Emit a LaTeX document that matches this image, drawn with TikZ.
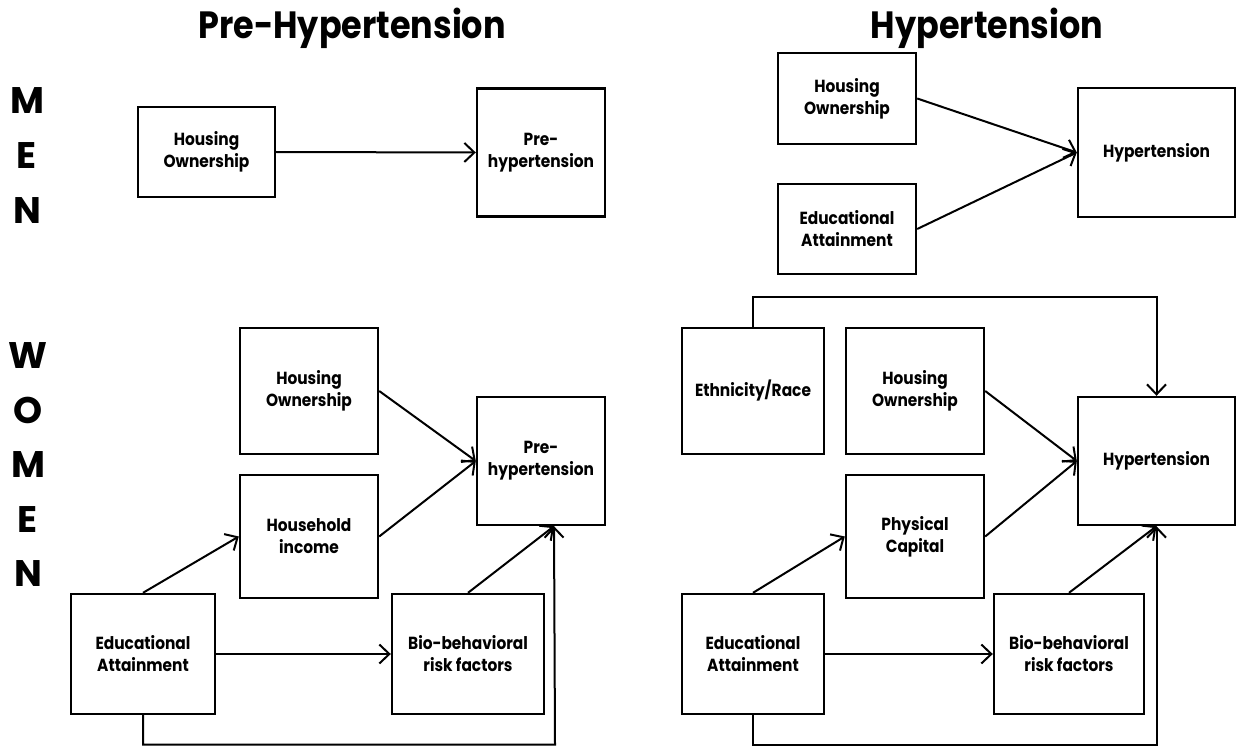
\documentclass[tikz,border=0pt]{standalone}
\usepackage{fontspec}
\setmainfont{Poppins}
\newfontfamily\narrowfont[FakeStretch=0.88]{Poppins}
\usetikzlibrary{arrows.meta,calc}
\begin{document}
\begin{tikzpicture}[x=1pt,y=-1pt,
  box/.style={draw,line width=2.4pt,align=center,inner sep=0pt,
    font=\narrowfont\fontsize{17.5}{22}\selectfont\bfseries},
  link/.style={line width=2pt,-{Straight Barb[length=10pt,width=19pt,line width=2pt]}},
  heading/.style={anchor=base,font=\narrowfont\fontsize{38}{40}\selectfont\bfseries},
  sidelabel/.style={anchor=base,font=\fontsize{37}{40}\selectfont\bfseries}]
\useasboundingbox (0,0) rectangle (1241,746);

% column headings
\node[heading] (hpre) at (352,39) {Pre-Hypertension};
\node[heading] (hhyp) at (987,39) {Hypertension};

% row labels
\node[sidelabel] (m1) at (27,114) {M};
\node[sidelabel] (m2) at (27,169) {E};
\node[sidelabel] (m3) at (27,223) {N};
\node[sidelabel] (w1) at (28,368) {W};
\node[sidelabel] (w2) at (28,423) {O};
\node[sidelabel] (w3) at (28,477) {M};
\node[sidelabel] (w4) at (28,532) {E};
\node[sidelabel] (w5) at (28,586) {N};

% men, pre-hypertension
\node[box,minimum width=137pt,minimum height=90pt] (mho) at (206.5,152) {Housing\\Ownership};
\node[box,minimum width=128pt,minimum height=128pt] (mph) at (541,152.5) {Pre-\\hypertension};
\draw[link] (mho.east) -- (mph.west);

% men, hypertension
\node[box,minimum width=138pt,minimum height=91pt] (rho) at (847,98.5) {Housing\\Ownership};
\node[box,minimum width=138pt,minimum height=90pt] (rea) at (847,229) {Educational\\Attainment};
\node[box,minimum width=157pt,minimum height=129pt] (rht) at (1156.5,152.5) {Hypertension};
\draw[link] (rho.east) -- (rht.west);
\draw[link] (rea.east) -- (rht.west);

% women, pre-hypertension
\node[box,minimum width=138pt,minimum height=126pt] (who) at (309,391) {Housing\\Ownership};
\node[box,minimum width=138pt,minimum height=123pt] (whi) at (309,536.5) {Household\\income};
\node[box,minimum width=128pt,minimum height=128pt] (wph) at (541,461) {Pre-\\hypertension};
\node[box,minimum width=144pt,minimum height=120pt] (wea) at (143,654) {Educational\\Attainment};
\node[box,minimum width=152pt,minimum height=120pt] (wbb) at (468,654) {Bio-behavioral\\risk factors};
\coordinate (wphin) at ($(wph.south)+(13,0)$);
\draw[link] (who.east) -- (wph.west);
\draw[link] (whi.east) -- (wph.west);
\draw[link] (wea.north) -- (whi.west);
\draw[link] (wea.east) -- (wbb.west);
\draw[link] (wbb.north) -- (wphin);
\draw[link] (wea.south) |- (555,744.5) -- (wphin);

% women, hypertension
\node[box,minimum width=142pt,minimum height=126pt] (ver) at (753,391) {Ethnicity/Race};
\node[box,minimum width=138pt,minimum height=126pt] (vho) at (915,391) {Housing\\Ownership};
\node[box,minimum width=138pt,minimum height=123pt] (vpc) at (915,536.5) {Physical\\Capital};
\node[box,minimum width=157pt,minimum height=128pt] (vht) at (1156.5,461) {Hypertension};
\node[box,minimum width=142pt,minimum height=120pt] (vea) at (753,654) {Educational\\Attainment};
\node[box,minimum width=150pt,minimum height=120pt] (vbb) at (1069,654) {Bio-behavioral\\risk factors};
\draw[link] (ver.north) |- (1156.5,297) -- (vht.north);
\draw[link] (vho.east) -- (vht.west);
\draw[link] (vpc.east) -- (vht.west);
\draw[link] (vea.north) -- (vpc.west);
\draw[link] (vea.east) -- (vbb.west);
\draw[link] (vbb.north) -- (vht.south);
\draw[link] (vea.south) |- (1156.5,744.5) -- (vht.south);
\end{tikzpicture}
\end{document}
